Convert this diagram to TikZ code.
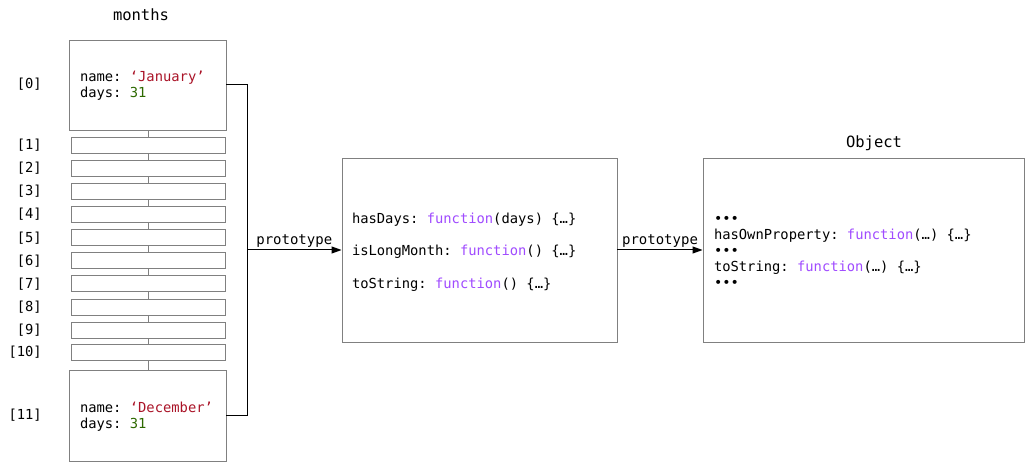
\documentclass[tikz,border=0pt]{standalone}
\usepackage{fontspec}
\setmonofont{DejaVu Sans Mono}
\usetikzlibrary{arrows.meta}
\definecolor{boxgray}{RGB}{128,128,128}
\definecolor{strred}{RGB}{170,20,40}
\definecolor{numgreen}{RGB}{45,105,0}
\definecolor{fnpurple}{RGB}{160,75,255}
\newcommand{\kw}[1]{\textcolor{fnpurple}{#1}}
\newcommand{\str}[1]{\textcolor{strred}{#1}}
\newcommand{\num}[1]{\textcolor{numgreen}{#1}}
\newcommand{\spc}{\hbox to 0.6021em{}}
\begin{document}
\begin{tikzpicture}[x=1pt,y=-1pt,
  every node/.style={font=\ttfamily\fontsize{13.8}{16}\selectfont, inner sep=0pt},
  title/.style={font=\ttfamily\fontsize{15.5}{18}\selectfont},
  objbox/.style={draw=boxgray, line width=0.9pt, fill=white, align=left},
  slot/.style={draw=boxgray, line width=0.9pt, fill=white, minimum width=154pt, minimum height=16pt},
  idx/.style={anchor=east},
  link/.style={draw=black, line width=1pt},
  arr/.style={link, -{Triangle[length=10pt,width=7pt]}},
  plabel/.style={anchor=south, inner sep=2pt, font=\ttfamily\fontsize{14}{16}\selectfont}
]
\useasboundingbox (0,0) rectangle (1025,462);

% months array
\node[title] (tmonths) at (141,15) {months};
\node[objbox, minimum width=157pt, minimum height=90pt, text width=135pt] (b0) at (147.5,85)
  {\rule{0pt}{12pt}name:\spc\str{‘January’}\\days:\spc\num{31}};
\node[idx] (l0) at (42,84) {[0]};
\foreach \i/\y in {1/145.3,2/168.4,3/191.5,4/214.6,5/237.7,6/260.8,7/283.9,8/307,9/330.1,10/352.2}{
  \node[slot] (b\i) at (148,\y) {};
  \node[idx] (l\i) at (42,\y) {[\i]};
}
\node[objbox, minimum width=157pt, minimum height=91pt, text width=135pt] (b11) at (147.5,415.5)
  {\rule{0pt}{12pt}name:\spc\str{‘December’}\\days:\spc\num{31}};
\node[idx] (l11) at (42,415) {[11]};

% gray connecting segments
\foreach \i/\j in {0/1,1/2,2/3,3/4,4/5,5/6,6/7,7/8,8/9,9/10,10/11}{
  \draw[boxgray, line width=0.9pt] (b\i.south -| 148,0) -- (b\j.north -| 148,0);
}

% prototype box
\node[objbox, minimum width=275pt, minimum height=184pt, text width=255pt] (proto) at (479.5,250)
  {\rule{0pt}{14pt}hasDays:\spc\kw{function}(days)\spc\{…\}\\[16.5pt]isLongMonth:\spc\kw{function}()\spc\{…\}\\[16.5pt]toString:\spc\kw{function}()\spc\{…\}};

% Object box
\node[title] (tobject) at (874,143) {Object};
\node[objbox, minimum width=321pt, minimum height=184pt, text width=299pt] (obj) at (863.5,250)
  {\rule{0pt}{11.5pt}•••\\hasOwnProperty:\spc\kw{function}(…)\spc\{…\}\\•••\\toString:\spc\kw{function}(…)\spc\{…\}\\•••};

% connectors
\coordinate (j) at (247,250);
\draw[link] (b0.east) -| (j);
\draw[link] (b11.east) -| (j);
\draw[arr] (j) -- node[plabel] {prototype} (proto.west);
\draw[arr] (proto.east) -- node[plabel] {prototype} (obj.west);
\end{tikzpicture}
\end{document}
